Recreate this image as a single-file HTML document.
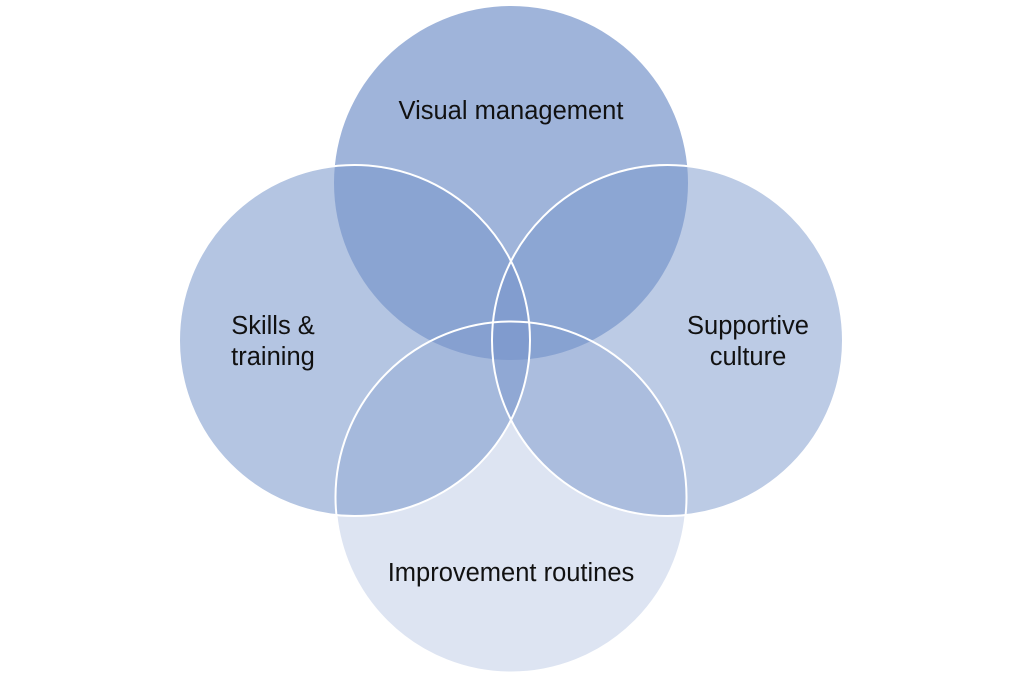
<!DOCTYPE html>
<html><head><style>
html,body{margin:0;padding:0;background:#fff;width:1024px;height:683px;overflow:hidden}
svg{display:block}
text{font-family:"Liberation Sans",sans-serif;font-size:25.5px;fill:#111;text-anchor:middle}
</style></head><body>
<svg width="1024" height="683" viewBox="0 0 1024 683">
<g fill="rgb(122,151,204)">
<circle cx="354.5" cy="340.5" r="175.5" fill-opacity="0.56"/>
<circle cx="667.5" cy="340.5" r="175.5" fill-opacity="0.5"/>
<circle cx="511" cy="183" r="177" fill-opacity="0.72"/>
<circle cx="511" cy="497" r="175.5" fill-opacity="0.26"/>
</g>
<g fill="none" stroke="#fff" stroke-width="2">
<circle cx="354.5" cy="340.5" r="175.5"/>
<circle cx="667.5" cy="340.5" r="175.5"/>
<circle cx="511" cy="497" r="175.5"/>
</g>
<text x="511" y="119">Visual management</text>
<text x="273" y="334">Skills &amp;</text>
<text x="273" y="365">training</text>
<text x="748" y="334">Supportive</text>
<text x="748" y="365">culture</text>
<text x="511" y="581">Improvement routines</text>
</svg>
</body></html>
